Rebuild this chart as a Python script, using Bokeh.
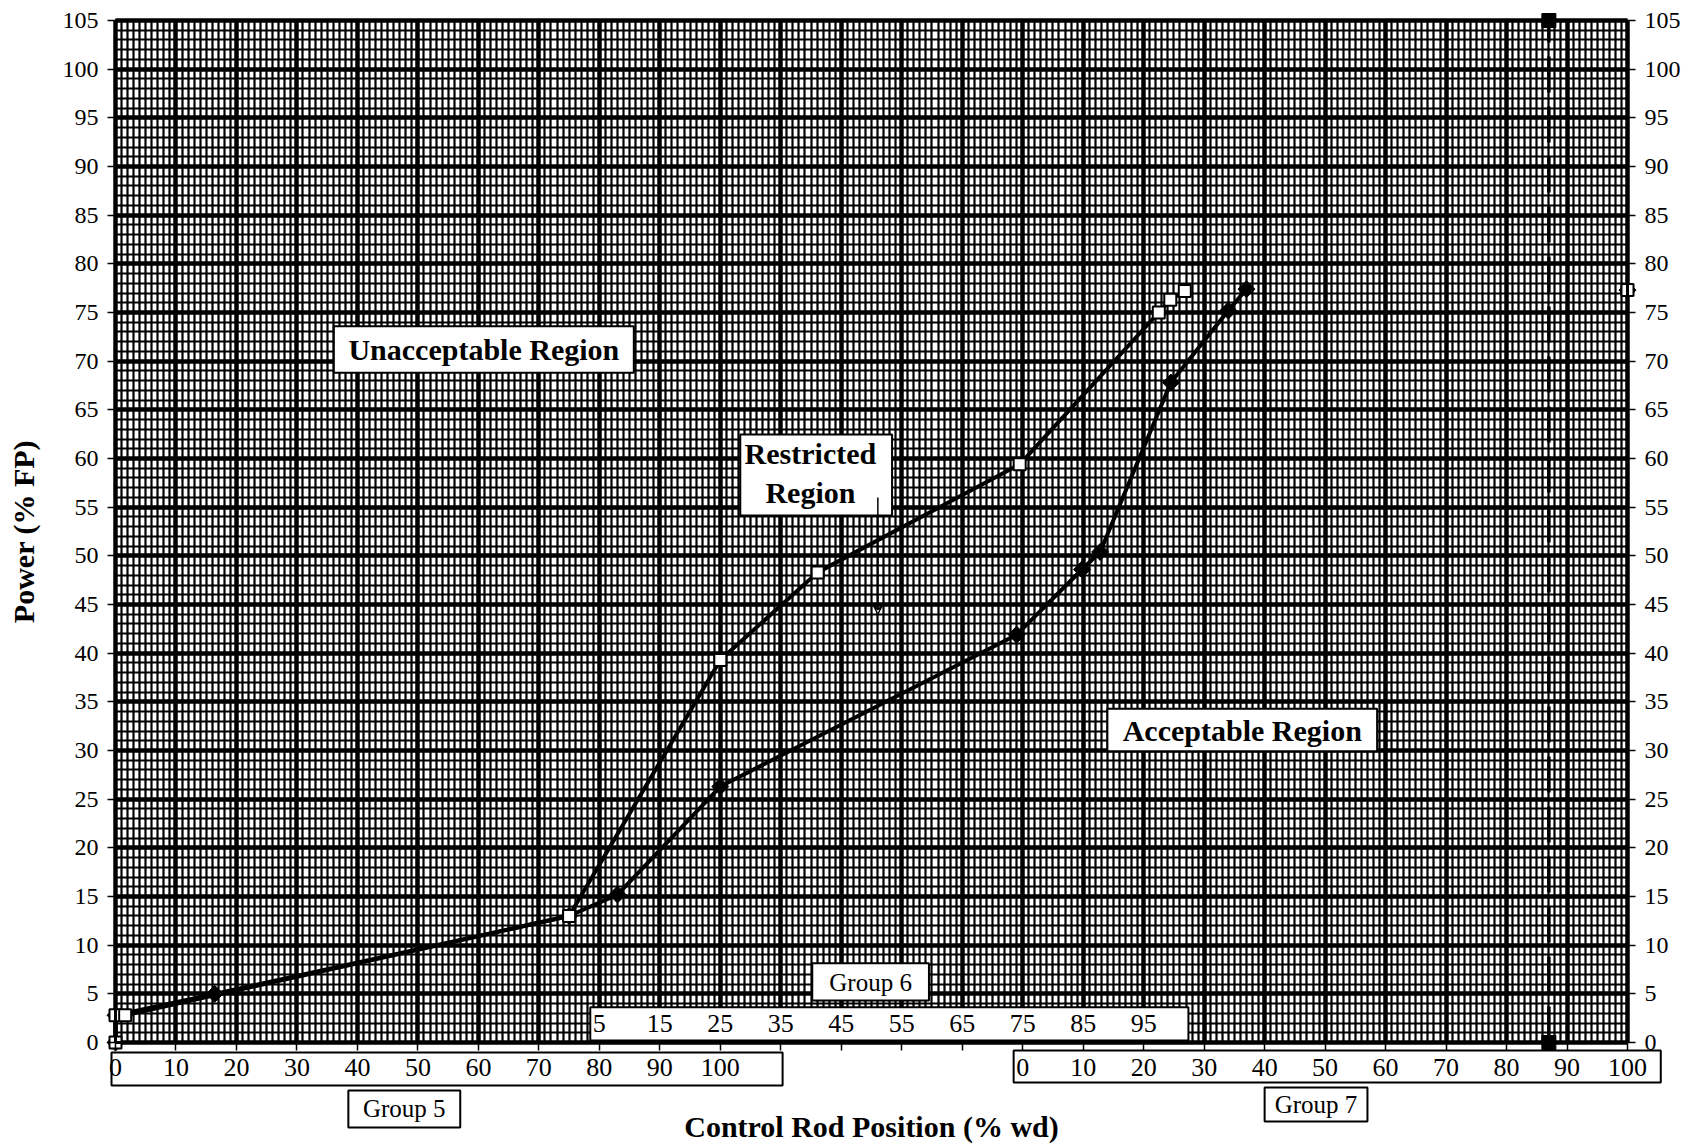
from bokeh.plotting import figure
from bokeh.models import LinearAxis, FixedTicker, Range1d, Arrow, VeeHead, Grid
from bokeh.core.properties import value
from bokeh.embed import file_html
from bokeh.resources import INLINE

# Shared rod-position axis: Group 5 %wd; Group 6 = x - 75; Group 7 = x - 150
upper_x = [0, 0, 1.6, 75, 100, 116.1, 149.5, 172.5, 174.4, 176.8]
upper_y = [0, 2.8, 2.8, 13.0, 39.3, 48.3, 59.4, 75.0, 76.3, 77.2]
lower_x = [0, 0, 16.4, 75, 83, 100, 149, 159.8, 162.8, 174.5, 184, 187]
lower_y = [0, 2.8, 5.0, 13.0, 15.2, 26.3, 41.9, 48.6, 50.4, 67.8, 75.2, 77.4]
end_x = [250]
end_y = [77.3]

rod_limit_x = [237, 237]
rod_limit_y = [0, 105]

power_ticks = list(range(0, 106, 5))
g5_ticks = list(range(0, 101, 10))
g6_ticks = list(range(80, 171, 10))
g6_labels = ["5", "15", "25", "35", "45", "55", "65", "75", "85", "95"]
g7_ticks = list(range(150, 251, 10))
g7_labels = ["0", "10", "20", "30", "40", "50", "60", "70", "80", "90", "100"]

X_MAX = 250
Y_MAX = 105
# the paper sits inside a wider plotting area that also holds all the scales
X_LO, X_HI = -19.015, 262.73
Y_LO, Y_HI = -10.582, 107.055
SERIF = "Liberation Serif"

p = figure(width=1704, height=1145, output_backend="svg", toolbar_location=None,
           x_range=Range1d(X_LO, X_HI), y_range=Range1d(Y_LO, Y_HI),
           min_border=0, min_border_left=0, min_border_right=0,
           min_border_top=0, min_border_bottom=0,
           background_fill_color="white", border_fill_color="white",
           outline_line_color=None)

# graph-paper grid: heavy lines every 10 / 5 units, fine lines every unit
p.xgrid.ticker = FixedTicker(ticks=list(range(0, X_MAX + 1, 10)),
                             minor_ticks=list(range(0, X_MAX + 1)))
p.ygrid.ticker = FixedTicker(ticks=power_ticks, minor_ticks=list(range(0, Y_MAX + 1)))
for g in (p.xgrid, p.ygrid):
    g.grid_line_color = "black"
    g.grid_line_width = 4.5
    g.minor_grid_line_color = "black"
    g.minor_grid_line_width = 2.2

if "cross_bounds" in Grid.properties():
    p.xgrid.bounds = (0, X_MAX)
    p.xgrid.cross_bounds = (0, Y_MAX)
    p.ygrid.bounds = (0, Y_MAX)
    p.ygrid.cross_bounds = (0, X_MAX)
else:
    # white margins round the paper
    p.quad(left=[X_LO - 1, X_MAX, X_LO - 1, X_LO - 1],
           right=[0, X_HI + 1, X_HI + 1, X_HI + 1],
           bottom=[Y_LO - 1, Y_LO - 1, Y_LO - 1, Y_MAX],
           top=[Y_HI + 1, Y_HI + 1, 0, Y_HI + 1],
           fill_color="white", line_color=None)

# bottom axis on the 0 % power line: Group 5 and Group 7 scales
xa = p.xaxis[0]
xa.fixed_location = 0
xa.bounds = (0, X_MAX)
xa.ticker = FixedTicker(ticks=list(range(0, X_MAX + 1, 10)))
overrides = {t: str(t) for t in g5_ticks}
overrides.update({t: "" for t in range(110, 150, 10)})
overrides.update({t: lab for t, lab in zip(g7_ticks, g7_labels)})
xa.major_label_overrides = overrides
xa.axis_label = "Control Rod Position (% wd)"
xa.axis_label_text_font = SERIF
xa.axis_label_text_font_style = "bold"
xa.axis_label_text_font_size = "30px"
xa.axis_label_text_color = "black"
xa.axis_label_standoff = 31
xa.major_label_text_font = SERIF
xa.major_label_text_font_size = "26px"
xa.major_label_text_color = "black"
xa.major_label_standoff = 8
xa.major_tick_out = 8
xa.major_tick_in = 0
xa.minor_tick_out = 0
xa.major_tick_line_width = 1.5
xa.axis_line_color = "black"
xa.axis_line_width = 3

ya = p.yaxis[0]
ya.fixed_location = 0
ya.axis_label = "Power (% FP)"
ya.axis_label_text_font = SERIF
ya.axis_label_text_font_style = "bold"
ya.axis_label_text_font_size = "30px"
ya.axis_label_text_color = "black"
ya.axis_label_standoff = 20

yr = LinearAxis(fixed_location=X_MAX)
p.add_layout(yr, "right")
for ax in (ya, yr):
    ax.ticker = FixedTicker(ticks=power_ticks)
    ax.bounds = (0, Y_MAX)
    ax.major_label_text_font = SERIF
    ax.major_label_text_font_size = "24px"
    ax.major_label_text_color = "black"
    ax.major_label_standoff = 9
    ax.major_tick_out = 8
    ax.major_tick_in = 0
    ax.minor_tick_out = 0
    ax.major_tick_line_width = 1.5
    ax.axis_line_color = "black"
    ax.axis_line_width = 3

# top edge of the paper
top = LinearAxis(fixed_location=Y_MAX, bounds=(0, X_MAX), ticker=FixedTicker(ticks=[]),
                 major_label_text_font_size="0px", axis_line_color="black",
                 axis_line_width=3, major_tick_out=0, minor_tick_out=0)
p.add_layout(top, "above")

# operating curves
p.line(lower_x, lower_y, line_color="black", line_width=4)
p.line(upper_x, upper_y, line_color="black", line_width=4)
p.scatter(lower_x, lower_y, marker="square", angle=0.785, size=12,
          fill_color="black", line_color="black")
p.scatter(end_x, end_y, marker="square", angle=0.785, size=12,
          fill_color="black", line_color="black")
p.scatter(upper_x, upper_y, marker="square", size=12, fill_color="white",
          line_color="black", line_width=2)
p.scatter(end_x, end_y, marker="square", size=12, fill_color="white",
          line_color="black", line_width=2)

# Group 7 insertion limit
p.line(rod_limit_x, rod_limit_y, line_color="black", line_width=3.5, line_dash="36 14")
p.scatter(rod_limit_x, rod_limit_y, marker="square", size=14, fill_color="black",
          line_color="black")


def boxed(x0, x1, y0, y1):
    p.quad(left=[x0], right=[x1], bottom=[y0], top=[y1], fill_color="white",
           line_color="black", line_width=2)


def words(xs, ys, texts, size, bold=True):
    p.text(x=xs, y=ys, text=texts, text_font=value(SERIF), text_font_size=size,
           text_font_style="bold" if bold else "normal", text_align="center",
           text_baseline="middle", text_color="black")


# region labels
boxed(36.1, 85.7, 68.8, 73.6)
words([60.9], [71.2], ["Unacceptable Region"], "30px")

boxed(103.3, 128.4, 54.15, 62.47)
words([114.9, 114.9], [60.5, 56.5], ["Restricted", "Region"], "30px")
p.add_layout(Arrow(x_start=126.05, y_start=56.0, x_end=126.05, y_end=44.0,
                   line_color="black", line_width=1.5,
                   end=VeeHead(size=9, line_color="black", line_width=1.5,
                               fill_color="white")))

boxed(164.0, 208.6, 29.93, 34.28)
words([186.3], [32.1], ["Acceptable Region"], "30px")

# Group 6 scale drawn on the paper
boxed(78.5, 177.4, 0.2, 3.63)
words(g6_ticks, [1.95] * len(g6_ticks), g6_labels, "26px", bold=False)
boxed(115.2, 134.5, 4.32, 8.15)
words([124.85], [6.2], ["Group 6"], "25px", bold=False)

# frames round the Group 5 / Group 7 scales, and their names
p.quad(left=[-0.66, 148.5], right=[110.3, 255.5], top=[-1.03, -0.82],
       bottom=[-4.42, -4.11], fill_alpha=0, line_color="black", line_width=2)
boxed(38.5, 57.0, -8.73, -4.93)
words([47.75], [-6.83], ["Group 5"], "25px", bold=False)
boxed(190.0, 207.0, -8.12, -4.62)
words([198.5], [-6.37], ["Group 7"], "25px", bold=False)

open("out.html", "w").write(file_html(p, INLINE))
